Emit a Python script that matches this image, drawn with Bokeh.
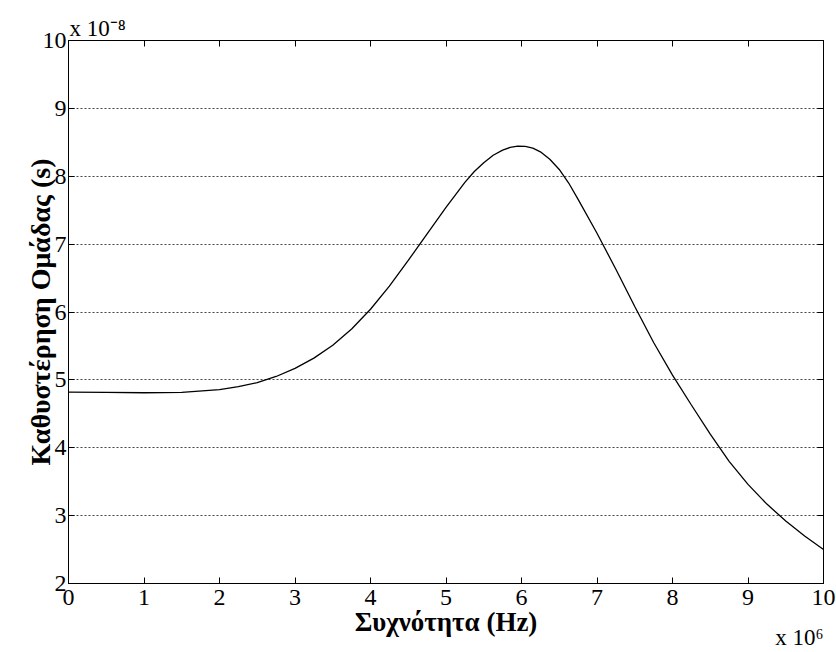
from bokeh.plotting import figure
from bokeh.models import Range1d, LinearAxis, FixedTicker, Title
from bokeh.embed import file_html
from bokeh.resources import INLINE

# Frequency (x 10^6 Hz) and group delay (x 10^-8 s)
freq = [0.0, 0.5, 1.0, 1.5, 2.0, 2.25, 2.5, 2.75, 3.0, 3.25, 3.5, 3.75,
        4.0, 4.25, 4.5, 4.75, 5.0, 5.25, 5.375, 5.5, 5.625, 5.75, 5.85, 5.95,
        6.05, 6.15, 6.25, 6.375, 6.5, 6.625, 6.75, 7.0, 7.25, 7.5, 7.75, 8.0,
        8.25, 8.5, 8.75, 9.0, 9.25, 9.5, 9.75, 10.0]
delay = [4.82, 4.815, 4.81, 4.815, 4.855, 4.9, 4.96, 5.05, 5.17, 5.32, 5.51, 5.75,
         6.04, 6.38, 6.76, 7.15, 7.54, 7.91, 8.07, 8.2, 8.31, 8.385, 8.425, 8.445,
         8.44, 8.415, 8.36, 8.25, 8.1, 7.9, 7.66, 7.16, 6.63, 6.08, 5.55, 5.07,
         4.63, 4.2, 3.8, 3.46, 3.17, 2.92, 2.7, 2.5]

x_ticks = [0, 1, 2, 3, 4, 5, 6, 7, 8, 9, 10]
y_ticks = [2, 3, 4, 5, 6, 7, 8, 9, 10]
grid_levels = [3, 4, 5, 6, 7, 8, 9]

x_label = "Συχνότητα (Hz)"
y_label = "Καθυστέρηση Ομάδας (s)"
x_multiplier = "x 10⁶"
y_multiplier = "x 10⁻⁸"

FONT = "Liberation Serif"

p = figure(width=836, height=652, output_backend="svg", toolbar_location=None,
           x_range=Range1d(0, 10), y_range=Range1d(2, 10),
           min_border_left=68, min_border_right=13,
           min_border_top=40, min_border_bottom=69)
p.background_fill_color = "white"
p.border_fill_color = "white"
p.outline_line_color = "black"
p.outline_line_width = 1

p.xgrid.visible = False
p.ygrid.ticker = FixedTicker(ticks=grid_levels)
p.ygrid.grid_line_color = "#444444"
p.ygrid.grid_line_dash = "2 2"
p.ygrid.grid_line_width = 1


def style_axis(ax, show_labels, label_size="27px"):
    ax.axis_line_color = "black"
    ax.axis_line_width = 1
    ax.major_tick_line_color = "black"
    ax.major_tick_in = 6
    ax.major_tick_out = 0
    ax.minor_tick_line_color = None
    ax.major_label_text_font = FONT
    ax.major_label_text_color = "black"
    ax.axis_label_text_font = FONT
    ax.axis_label_text_font_style = "bold"
    ax.axis_label_text_color = "black"
    ax.axis_label_text_font_size = label_size
    if show_labels:
        ax.major_label_text_font_size = "24px"
    else:
        ax.major_label_text_font_size = "0px"
        ax.major_label_standoff = 0


xb = p.xaxis[0]
xb.ticker = FixedTicker(ticks=x_ticks)
style_axis(xb, True)
xb.major_label_standoff = 6
xb.axis_label = x_label
xb.axis_label_standoff = -1

yl = p.yaxis[0]
yl.ticker = FixedTicker(ticks=y_ticks)
style_axis(yl, True, "28px")
yl.major_label_standoff = 2
yl.axis_label = y_label
yl.axis_label_standoff = -16

xt = LinearAxis(ticker=FixedTicker(ticks=x_ticks))
style_axis(xt, False)
p.add_layout(xt, "above")

yr = LinearAxis(ticker=FixedTicker(ticks=y_ticks))
style_axis(yr, False)
p.add_layout(yr, "right")

p.line(x=freq, y=delay, line_color="black", line_width=1.3)

# exponent multipliers
p.add_layout(Title(text=y_multiplier, align="left", offset=1, standoff=0,
                   text_font=FONT, text_font_size="23px",
                   text_font_style="normal", text_color="black"), "above")
p.add_layout(Title(text=x_multiplier, align="right", offset=0, standoff=-29,
                   vertical_align="top",
                   text_font=FONT, text_font_size="23px",
                   text_font_style="normal", text_color="black"), "below")

open("out.html", "w").write(file_html(p, INLINE))
